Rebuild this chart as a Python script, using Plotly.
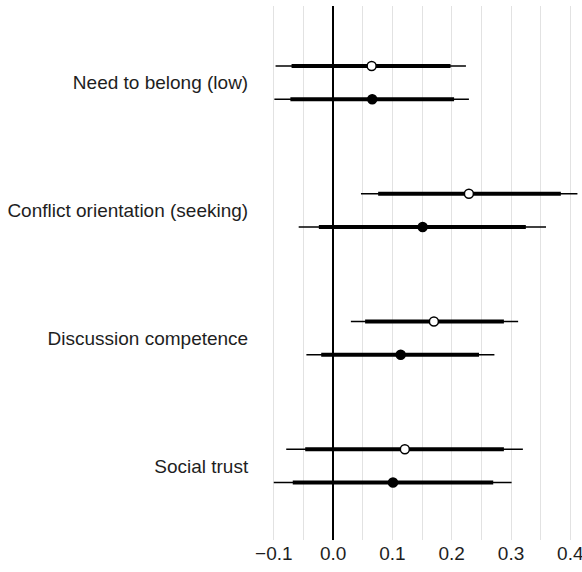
import plotly.graph_objects as go

categories = ["Need to belong (low)", "Conflict orientation (seeking)",
              "Discussion competence", "Social trust"]
cat_pos = [4, 3, 2, 1]

# Model A (open circles)
est_a = [0.065, 0.229, 0.170, 0.121]
lo95_a = [-0.097, 0.047, 0.030, -0.079]
hi95_a = [0.224, 0.412, 0.312, 0.320]
lo90_a = [-0.070, 0.076, 0.054, -0.047]
hi90_a = [0.198, 0.384, 0.288, 0.288]

# Model B (filled circles)
est_b = [0.066, 0.151, 0.114, 0.101]
lo95_b = [-0.099, -0.058, -0.045, -0.100]
hi95_b = [0.229, 0.359, 0.272, 0.301]
lo90_b = [-0.072, -0.024, -0.020, -0.068]
hi90_b = [0.204, 0.325, 0.246, 0.270]

tick_vals = [-0.1, 0.0, 0.1, 0.2, 0.3, 0.4]
tick_text = ["\u22120.1", "0.0", "0.1", "0.2", "0.3", "0.4"]

offset = 0.13
fig = go.Figure()

series = [
    (est_a, lo95_a, hi95_a, lo90_a, hi90_a, +offset, "white"),
    (est_b, lo95_b, hi95_b, lo90_b, hi90_b, -offset, "black"),
]
for est, l95, h95, l90, h90, off, fill in series:
    for i, c in enumerate(cat_pos):
        y = c + off
        fig.add_trace(go.Scatter(x=[l95[i], h95[i]], y=[y, y], mode="lines",
                                 line=dict(color="black", width=1.6),
                                 showlegend=False, hoverinfo="skip"))
        fig.add_trace(go.Scatter(x=[l90[i], h90[i]], y=[y, y], mode="lines",
                                 line=dict(color="black", width=4),
                                 showlegend=False, hoverinfo="skip"))
    fig.add_trace(go.Scatter(x=est, y=[c + off for c in cat_pos], mode="markers",
                             marker=dict(size=9, color=fill,
                                         line=dict(color="black", width=1.5)),
                             showlegend=False))

fig.update_layout(
    width=582, height=572,
    margin=dict(l=272, r=1, t=6, b=32, autoexpand=False),
    paper_bgcolor="white", plot_bgcolor="white",
    font=dict(family="Liberation Sans, Arial, sans-serif", size=19, color="#1e1e1e"),
    xaxis=dict(range=[-0.103, 0.418], tickvals=tick_vals, ticktext=tick_text,
               showgrid=True, gridcolor="#e2e2e2", gridwidth=1.4,
               minor=dict(dtick=0.05, tick0=0, showgrid=True, gridcolor="#e2e2e2", gridwidth=1.4),
               zeroline=True, zerolinecolor="black", zerolinewidth=2,
               showline=False, ticks="", ticklabelstandoff=0, automargin=False,
               ticklabeloverflow="allow",
               tickfont=dict(size=19, color="#1e1e1e")),
    yaxis=dict(range=[0.42, 4.60], tickvals=cat_pos, ticktext=categories,
               showgrid=False, zeroline=False, showline=False, automargin=False,
               ticks="outside", ticklen=19, tickcolor="rgba(0,0,0,0)",
               tickfont=dict(size=19, color="#1e1e1e")),
)

fig.write_html("out.html", config={"displayModeBar": False},
               post_script="document.body.style.margin='0';")
